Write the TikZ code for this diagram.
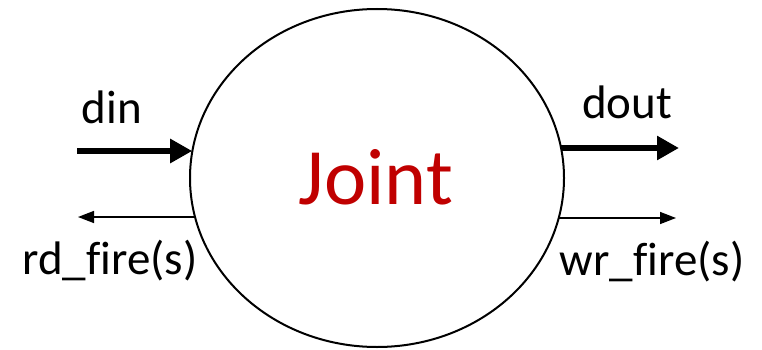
\documentclass[tikz,border=0pt]{standalone}
\usepackage{fontspec}
\setmainfont{Carlito}[Ligatures=NoCommon]
\usetikzlibrary{arrows.meta,shapes.geometric}
\definecolor{jred}{HTML}{C00000}
\tikzset{
  thickarrow/.style={line width=6pt,-{Triangle[length=22pt,width=23pt]}},
  thinarrow/.style={line width=1.5pt,-{Triangle[length=16pt,width=12pt]}},
  lbl/.style={anchor=base,inner sep=0pt,font=\fontsize{47}{52}\selectfont},
}
\begin{document}
\begin{tikzpicture}[x=1pt,y=-1pt]
\useasboundingbox (0,0) rectangle (762,350);
\node[ellipse,draw,line width=2pt,minimum width=374pt,minimum height=338pt,inner sep=0pt,outer sep=0pt] (J) at (377,178) {};
\node[anchor=base,inner sep=0pt,text=jred,font=\fontsize{80}{86}\selectfont] (jl) at (376,204) {Joint};
\node[lbl] (din) at (112,123) {din};
\node[lbl] (dout) at (627,118) {dout};
\node[lbl] (rd) at (110,274) {rd\_fire(s)};
\node[lbl] (wr) at (652,275) {wr\_fire(s)};
\coordinate (dinS) at (77,151);
\coordinate (rdE) at (78,217);
\coordinate (doutE) at (679,148);
\coordinate (wrE) at (676,218);
\draw[thickarrow] (dinS) -- (dinS -| J.172);
\draw[thinarrow] (rdE -| J.192) -- (rdE);
\draw[thickarrow] (doutE -| J.9) -- (doutE);
\draw[thinarrow] (wrE -| J.-12) -- (wrE);
\end{tikzpicture}
\end{document}
